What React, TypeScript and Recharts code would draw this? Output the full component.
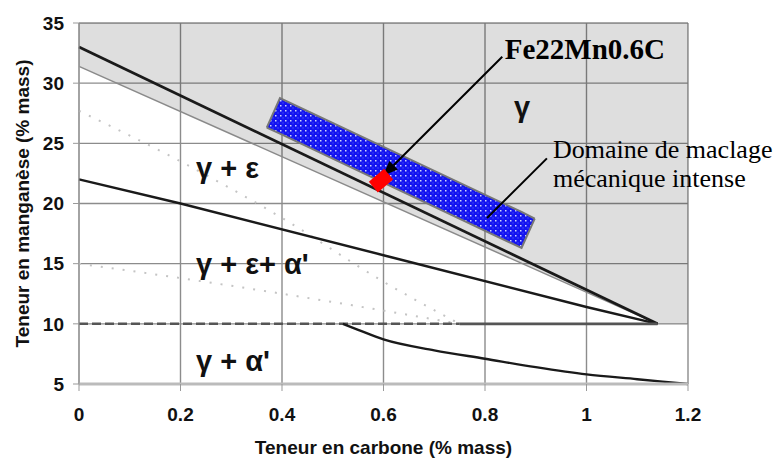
import React from 'react';
import {
  ComposedChart,
  Line,
  Area,
  Scatter,
  XAxis,
  YAxis,
  CartesianGrid,
  ReferenceLine,
  ReferenceDot,
} from 'recharts';

const xTicks = [0, 0.2, 0.4, 0.6, 0.8, 1, 1.2];
const yTicks = [5, 10, 15, 20, 25, 30, 35];

// grey gamma domain, [low, high] Mn at each carbon content
const gammaZone = [
  { c: 0, range: [31.4, 35] },
  { c: 1.14, range: [10, 35] },
  { c: 1.2, range: [10, 35] },
];
const gammaLimit = [
  { c: 0, mn: 33 },
  { c: 1.14, mn: 10 },
];
const gammaLimitLow = [
  { c: 0, mn: 31.4 },
  { c: 1.14, mn: 10 },
];
const epsilonLimit = [
  { c: 0, mn: 22 },
  { c: 0.2, mn: 20 },
  { c: 0.6, mn: 15.7 },
  { c: 1, mn: 11.4 },
  { c: 1.14, mn: 10 },
];
const martensiteDashed = [
  { c: 0, mn: 10 },
  { c: 0.75, mn: 10 },
];
const martensiteSolid = [
  { c: 0.75, mn: 10 },
  { c: 1.14, mn: 10 },
];
const alphaLimit = [
  { c: 0.52, mn: 10 },
  { c: 0.55, mn: 9.5 },
  { c: 0.6, mn: 8.7 },
  { c: 0.7, mn: 7.8 },
  { c: 0.8, mn: 7.1 },
  { c: 0.9, mn: 6.4 },
  { c: 1, mn: 5.8 },
  { c: 1.1, mn: 5.4 },
  { c: 1.2, mn: 5 },
];
const dottedUpper = [
  { c: 0, mn: 27.7 },
  { c: 0.2, mn: 23.5 },
  { c: 0.4, mn: 18.8 },
  { c: 0.6, mn: 13.5 },
  { c: 0.75, mn: 10 },
];
const dottedLower = [
  { c: 0, mn: 15 },
  { c: 0.2, mn: 13.8 },
  { c: 0.4, mn: 12.5 },
  { c: 0.6, mn: 11.1 },
  { c: 0.75, mn: 10 },
];
// mechanical twinning domain (tilted box)
const twinningZone = [
  { c: 0.37, range: [26.3, 26.3] },
  { c: 0.396, range: [25.8, 28.75] },
  { c: 0.872, range: [16.3, 19.3] },
  { c: 0.898, range: [18.75, 18.75] },
];
const sample = [{ c: 0.595, mn: 21.9 }];

const sampleArrow = [
  { x: 0.834, y: 32.2 },
  { x: 0.599, y: 22.3 },
];
const twinningPointer = [
  { x: 0.922, y: 23.75 },
  { x: 0.804, y: 18.8 },
];

const phaseLabels = [
  { c: 0.2305, mn: 22.08, text: 'γ + ε' },
  { c: 0.2305, mn: 14.17, text: "γ + ε+ α'" },
  { c: 0.2305, mn: 6.08, text: "γ + α'" },
];
const gammaLabel = { c: 0.873, mn: 27.2, text: 'γ' };
const sampleLabel = { c: 0.839, mn: 32.0, text: 'Fe22Mn0.6C' };
const twinningLabel = { c: 0.934, mn: 23.75, lines: ['Domaine de maclage', 'mécanique intense'] };

const sans = '"Liberation Sans", Arial, sans-serif';
const serif = '"Liberation Serif", "Times New Roman", serif';

const Arrow = (props: any) => {
  const { x1, y1, x2, y2 } = props;
  const a = Math.atan2(y2 - y1, x2 - x1);
  const len = 15;
  const w = 6;
  const bx = x2 - len * Math.cos(a);
  const by = y2 - len * Math.sin(a);
  const px = -Math.sin(a) * w;
  const py = Math.cos(a) * w;
  return (
    <g>
      <line x1={x1} y1={y1} x2={bx} y2={by} stroke="#000" strokeWidth={2} />
      <polygon points={`${x2},${y2} ${bx + px},${by + py} ${bx - px},${by - py}`} fill="#000" />
    </g>
  );
};

const Pointer = (props: any) => {
  const { x1, y1, x2, y2 } = props;
  return <line x1={x1} y1={y1} x2={x2} y2={y2} stroke="#000" strokeWidth={2} />;
};

const Diamond = (props: any) => {
  const { cx, cy } = props;
  return (
    <rect
      x={cx - 7}
      y={cy - 10}
      width={14}
      height={20}
      fill="#ff0000"
      transform={`rotate(50 ${cx} ${cy})`}
    />
  );
};

const App: React.FC = () => {
  return (
    <div style={{ position: 'absolute', left: 0, top: 0, width: 779, height: 461, background: '#fff' }}>
      <ComposedChart width={779} height={461} margin={{ top: 23, right: 91, bottom: 0, left: 0 }}>
        <defs>
          <pattern id="twinHatch" width="5" height="5" patternUnits="userSpaceOnUse">
            <rect width="5" height="5" fill="#1414f0" />
            <rect x="0" y="0" width="1.5" height="1.5" fill="#d0d6ff" />
            <rect x="2.5" y="2.5" width="1" height="1" fill="#5f6cff" />
          </pattern>
        </defs>
        <CartesianGrid stroke="#8c8c8c" strokeWidth={1.4} />
        <XAxis
          dataKey="c"
          type="number"
          domain={[0, 1.2]}
          ticks={xTicks}
          height={77}
          tickSize={7}
          tickMargin={17}
          interval={0}
          tickFormatter={(v: number) => String(+v.toFixed(1))}
          tick={{ fill: '#111', fontSize: 19, fontWeight: 'bold', fontFamily: sans }}
          axisLine={{ stroke: '#bbb', strokeWidth: 3 }}
          tickLine={{ stroke: '#999' }}
          label={{
            value: 'Teneur en carbone (% mass)',
            position: 'insideBottom',
            offset: 7,
            fill: '#111',
            fontSize: 19,
            fontWeight: 'bold',
            fontFamily: sans,
          }}
        />
        <YAxis
          type="number"
          domain={[5, 35]}
          ticks={yTicks}
          width={79}
          tickSize={6}
          tickMargin={9}
          interval={0}
          tick={{ fill: '#111', fontSize: 19, fontWeight: 'bold', fontFamily: sans }}
          axisLine={{ stroke: '#999' }}
          tickLine={{ stroke: '#999' }}
          label={{
            value: 'Teneur en manganèse (% mass)',
            angle: -90,
            position: 'insideLeft',
            offset: 22,
            fill: '#111',
            fontSize: 19,
            fontWeight: 'bold',
            fontFamily: sans,
            style: { textAnchor: 'middle' },
          }}
        />
        <Area
          data={gammaZone}
          dataKey="range"
          type="linear"
          stroke="none"
          fill="#000"
          fillOpacity={0.13}
          isAnimationActive={false}
        />
        <Line data={dottedUpper} dataKey="mn" type="monotone" stroke="#c4c4c4" strokeWidth={2} strokeDasharray="2 9" dot={false} isAnimationActive={false} />
        <Line data={dottedLower} dataKey="mn" type="monotone" stroke="#c4c4c4" strokeWidth={2} strokeDasharray="2 9" dot={false} isAnimationActive={false} />
        <Line data={gammaLimitLow} dataKey="mn" type="linear" stroke="#8a8a8a" strokeWidth={1.5} dot={false} isAnimationActive={false} />
        <Line data={gammaLimit} dataKey="mn" type="linear" stroke="#1a1a1a" strokeWidth={2.8} dot={false} isAnimationActive={false} />
        <Line data={epsilonLimit} dataKey="mn" type="linear" stroke="#1a1a1a" strokeWidth={2.4} dot={false} isAnimationActive={false} />
        <Line data={martensiteDashed} dataKey="mn" type="linear" stroke="#555" strokeWidth={2.5} strokeDasharray="9 4" dot={false} isAnimationActive={false} />
        <Line data={martensiteSolid} dataKey="mn" type="linear" stroke="#555" strokeWidth={2.8} dot={false} isAnimationActive={false} />
        <Line data={alphaLimit} dataKey="mn" type="monotone" stroke="#1a1a1a" strokeWidth={2.4} dot={false} isAnimationActive={false} />
        <Area
          data={twinningZone}
          dataKey="range"
          type="linear"
          stroke="#777"
          strokeWidth={2}
          fill="url(#twinHatch)"
          fillOpacity={1}
          isAnimationActive={false}
        />
        <Scatter data={sample} dataKey="mn" shape={<Diamond />} isAnimationActive={false} />
        <ReferenceLine segment={sampleArrow} shape={(p: any) => <Arrow {...p} />} />
        <ReferenceLine segment={twinningPointer} shape={(p: any) => <Pointer {...p} />} />
        {phaseLabels.map((l) => (
          <ReferenceDot
            key={l.text}
            x={l.c}
            y={l.mn}
            r={0}
            shape={(p: any) => (
              <text x={p.cx} y={p.cy} fill="#111" fontSize={29} fontWeight="bold" fontFamily={sans}>
                {l.text}
              </text>
            )}
          />
        ))}
        <ReferenceDot
          x={gammaLabel.c}
          y={gammaLabel.mn}
          r={0}
          shape={(p: any) => (
            <text x={p.cx} y={p.cy} fill="#111" fontSize={29} fontWeight="bold" fontFamily={sans} textAnchor="middle">
              {gammaLabel.text}
            </text>
          )}
        />
        <ReferenceDot
          x={sampleLabel.c}
          y={sampleLabel.mn}
          r={0}
          shape={(p: any) => (
            <text x={p.cx} y={p.cy} fill="#000" fontSize={29} fontWeight="bold" fontFamily={serif}>
              {sampleLabel.text}
            </text>
          )}
        />
        <ReferenceDot
          x={twinningLabel.c}
          y={twinningLabel.mn}
          r={0}
          shape={(p: any) => (
            <text x={p.cx} y={p.cy} fill="#000" fontSize={26} fontFamily={serif}>
              {twinningLabel.lines.map((line, i) => (
                <tspan key={line} x={p.cx} dy={i === 0 ? 0 : 29}>
                  {line}
                </tspan>
              ))}
            </text>
          )}
        />
      </ComposedChart>
    </div>
  );
};

export default App;
